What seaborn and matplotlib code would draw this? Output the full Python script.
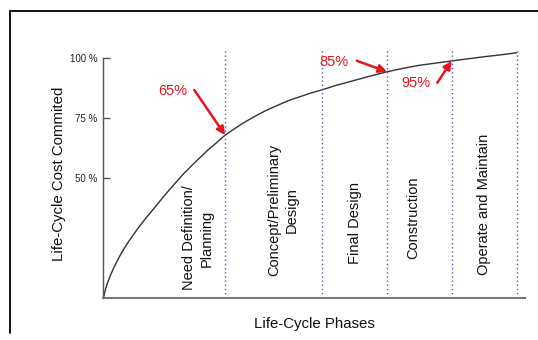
import numpy as np
import pandas as pd
import matplotlib
matplotlib.use("Agg")
import matplotlib.pyplot as plt
from matplotlib.lines import Line2D
import seaborn as sns

# ---- data -------------------------------------------------------------
# project timeline (relative units) and share of life-cycle cost committed (%)
timeline = [0.0, 0.5, 1.0, 1.6, 2.4, 3.2, 4.0, 5.0, 6.0, 7.1, 8.5, 10.0,
            11.1, 13.0, 15.0, 17.0, 19.0, 21.0, 22.9, 24.9, 26.9, 28.9,
            30.8, 32.8, 34.8, 36.8, 38.7, 40.7, 42.7, 44.6, 46.6, 49.2,
            51.9, 55.0, 59.0, 63.0, 67.3, 71.0, 75.0, 79.0, 82.6, 86.5,
            90.5, 94.5, 98.0]
cost_committed = [0.0, 3.5, 6.3, 9.1, 12.3, 15.1, 17.8, 20.8, 23.5, 26.3,
                  29.7, 33.1, 35.4, 39.5, 43.7, 47.8, 51.4, 54.4, 57.1, 59.9,
                  62.4, 65.0, 68.2, 71.5, 74.4, 75.8, 76.7, 77.5, 78.3, 79.0,
                  79.6, 80.4, 81.1, 82.0, 83.0, 84.0, 85.0, 88.1, 91.0, 93.1,
                  95.0, 98.75, 100.6, 101.4, 102.2]

phases = ["Need Definition/\nPlanning", "Concept/Preliminary\nDesign",
          "Final Design", "Construction", "Operate and Maintain"]
phase_ends = [28.9, 51.9, 67.3, 82.6, 98.0]

# committed share called out at the end of selected phases
callout_phase = [0, 2, 3]
callout_value = [65, 85, 95]

ytick_values = [50, 75, 100]
ytick_labels = ["50 %", "75 %", "100 %"]

# ---- layout / style ---------------------------------------------------
W, H = 538, 340
RED = "#e5151e"
DOT = "#5b5ba8"

# schematic (non-linear) vertical axis: value -> drawn height
knot_val = [-10, 0, 50, 65, 75, 85, 95, 100, 130]
knot_pos = [-10, 0, 50, 67.9, 75, 94.3, 98.8, 100, 130]


def fwd(v):
    return np.interp(v, knot_val, knot_pos)


def inv(u):
    return np.interp(u, knot_pos, knot_val)


# label anchors (axes fraction)
phase_label_xy = [(0.2246, 0.240), (0.426, 0.352), (0.597, 0.300),
                  (0.735, 0.320), (0.903, 0.376)]
callout_text_xy = [(0.164, 0.829), (0.547, 0.945), (0.741, 0.859)]
callout_tail_xy = [(0.2158, 0.832), (0.601, 0.949), (0.792, 0.861)]

sns.set_style("white")
plt.rcParams["font.family"] = ["Liberation Sans", "DejaVu Sans"]

fig = plt.figure(figsize=(W / 100, H / 100), dpi=100)
ax = fig.add_axes([103.3 / W, 1 - 298 / H, (525 - 103.3) / W, 250 / H])

df = pd.DataFrame({"timeline": timeline, "committed": cost_committed})
sns.lineplot(data=df, x="timeline", y="committed", ax=ax, sort=False,
             color="#333333", linewidth=1.0)

ax.set_yscale("function", functions=(fwd, inv))
ax.set_xlim(0, 100)
ax.set_ylim(0, 104.2)

# phase boundaries
for b in phase_ends:
    ax.axvline(b, color=DOT, linestyle=(0, (1, 2)), linewidth=1.0)

# phase names
for name, (px, py) in zip(phases, phase_label_xy):
    ax.text(px, py, name, transform=ax.transAxes, rotation=90,
            ha="center", va="center", multialignment="center",
            fontsize=10.5, color="#111111", linespacing=1.3)

# callouts
for i, v, (tx, ty), (ax_, ay_) in zip(callout_phase, callout_value,
                                      callout_text_xy, callout_tail_xy):
    ax.text(tx, ty, f"{v}%", transform=ax.transAxes, ha="center",
            va="center", fontsize=10.5, color=RED)
    ax.annotate("", xy=(phase_ends[i], v), xycoords="data",
                xytext=(ax_, ay_), textcoords="axes fraction",
                arrowprops=dict(arrowstyle="-|>", color=RED, lw=1.8,
                                mutation_scale=12, shrinkA=0, shrinkB=0))

# axes styling
ax.set_xticks([])
ax.set_yticks(ytick_values)
ax.set_yticklabels(ytick_labels)
ax.tick_params(axis="y", direction="in", length=5, width=1.0,
               color="#555555", labelsize=7, labelcolor="#222222", pad=4,
               left=True)
for s in ("top", "right"):
    ax.spines[s].set_visible(False)
ax.spines["left"].set_bounds(0, 100)
ax.spines["left"].set_color("#555555")
ax.spines["left"].set_linewidth(1.0)
ax.spines["bottom"].set_color("#777777")
ax.spines["bottom"].set_linewidth(1.5)

ax.set_ylabel("Life-Cycle Cost Commited", fontsize=10.8, color="#111111")
ax.yaxis.label.set_va("center")
ax.yaxis.set_label_coords(-0.105, 0.498)
ax.set_xlabel("Life-Cycle Phases", fontsize=10.8, color="#111111")
ax.xaxis.label.set_va("center")
ax.xaxis.set_label_coords(0.501, -0.104)

# outer frame (top and left edges)
fig.add_artist(Line2D([10.3 / W, 10.3 / W], [1 - 11 / H, 1 - 332.7 / H],
                      transform=fig.transFigure, color="black", lw=1.3))
fig.add_artist(Line2D([10.3 / W, 1.0], [1 - 11 / H, 1 - 11 / H],
                      transform=fig.transFigure, color="black", lw=1.3))

fig.savefig("out.png", dpi=100)
